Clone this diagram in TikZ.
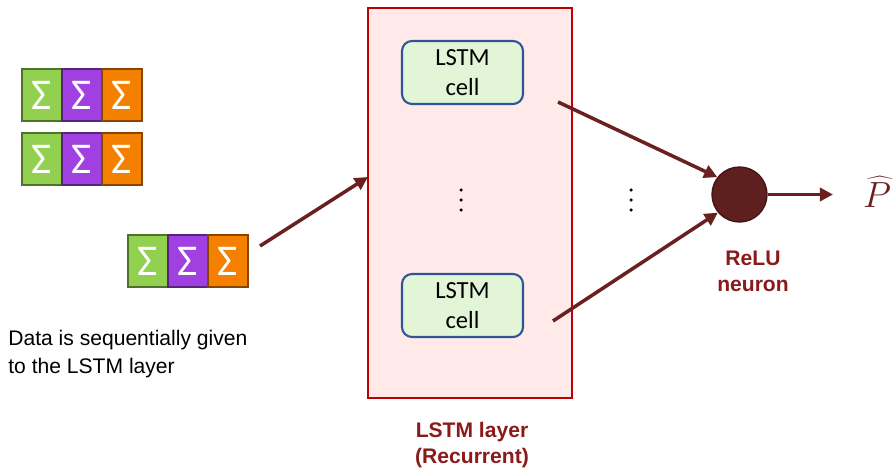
\documentclass[tikz,border=0pt]{standalone}
\usepackage{fontspec}
\setmainfont{Liberation Sans}
\newfontfamily\cellfont{Carlito}
\usetikzlibrary{arrows.meta,positioning}

\definecolor{sgreen}{HTML}{92D050}
\definecolor{spurple}{HTML}{A040E0}
\definecolor{sorange}{HTML}{F58000}
\definecolor{boxred}{HTML}{C00000}
\definecolor{boxpink}{HTML}{FFE9E9}
\definecolor{cellblue}{HTML}{2F5597}
\definecolor{cellgreen}{HTML}{E2F5D6}
\definecolor{wire}{HTML}{6B2020}
\definecolor{neuron}{HTML}{5E1F1F}
\definecolor{labelred}{HTML}{8B1A1A}

\begin{document}
\begin{tikzpicture}[x=0.02cm,y=-0.02cm,
    sigcell/.style={minimum width=0.8cm,minimum height=1.04cm,inner sep=0pt,outer sep=0pt,
      line width=1pt,text=white,font=\cellfont\fontsize{25}{25}\selectfont},
    lstmcell/.style={draw=cellblue,fill=cellgreen,line width=1.2pt,rounded corners=0.2cm,
      minimum width=2.42cm,minimum height=1.26cm,align=center,
      font=\cellfont\fontsize{14}{17.5}\selectfont},
    conn/.style={draw=wire,line width=2pt,-{Triangle[length=7.5pt,width=7.5pt]}},
    lbl/.style={text=labelred,font=\bfseries\fontsize{12}{14.7}\selectfont,align=center}]
  \useasboundingbox (0,0) rectangle (893,470);

  \foreach \row/\x/\y in {blkA/42/95, blkB/42/159, blkC/148/261} {
    \foreach \i/\c in {0/sgreen, 1/spurple, 2/sorange} {
      \node[sigcell,fill=\c,draw=\c!55!black] (\row-\i) at (\x+\i*40,\y) {Σ};
    }
  }

  \node[draw=boxred,fill=boxpink,line width=1.5pt,minimum width=4.08cm,minimum height=7.8cm,
    inner sep=0pt] (layer) at (470,203) {};
  \node[lstmcell] (cellA) at (462.5,72.5) {LSTM\\cell};
  \node[lstmcell] (cellB) at (462.5,305.5) {LSTM\\cell};
  \foreach \x in {461, 631} {
    \foreach \dy in {-10, 0, 10} {
      \fill (\x,200+\dy) circle (0.035cm);
    }
  }

  \node[circle,fill=neuron,draw=neuron!70!black,line width=0.8pt,minimum size=1.1cm,
    inner sep=0pt] (relu) at (739.5,194.5) {};
  \node[text=wire,font=\fontsize{21}{24}\selectfont] (phat) at (877,192) {$\widehat{P}$};

  \coordinate (src) at (260,246);
  \coordinate (entry) at (368,177);
  \coordinate (cellAout) at (558,102);
  \coordinate (cellBout) at (553,321);
  \coordinate (out) at (833,194.5);

  \draw[conn] (src) -- (entry);
  \draw[conn] (cellAout) -- (relu.142);
  \draw[conn] (cellBout) -- (relu.220);
  \draw[conn] (relu) -- (out);

  \node[lbl] (relulbl) at (753,271) {ReLU\\neuron};
  \node[lbl] (layerlbl) at (472,445) {LSTM layer\\(Recurrent)};
  \node[anchor=north west,inner sep=0pt,align=left,font=\fontsize{12}{16}\selectfont] (note)
    at (8,330) {Data is sequentially given\\to the LSTM layer};
\end{tikzpicture}
\end{document}
